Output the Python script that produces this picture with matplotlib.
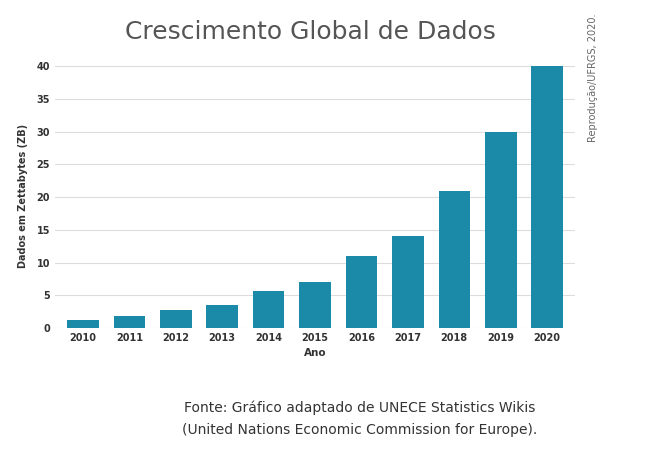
import matplotlib.pyplot as plt

anos = ["2010", "2011", "2012", "2013", "2014", "2015", "2016", "2017", "2018", "2019", "2020"]
dados_zb = [1.2, 1.8, 2.8, 3.5, 5.6, 7.1, 11, 14, 21, 30, 40]
yticks = [0, 5, 10, 15, 20, 25, 30, 35, 40]

fig = plt.figure(figsize=(6.48, 4.62), dpi=100)
ax = fig.add_axes([55 / 648, 1 - 328 / 462, 520 / 648, 265 / 462])

ax.bar(anos, dados_zb, width=0.68, color="#1a8aa8", zorder=3)
ax.set_ylim(0, 40.5)
ax.set_xlim(-0.6, len(anos) - 0.4)
ax.set_yticks(yticks)
ax.grid(axis="y", color="#dddddd", linewidth=0.8, zorder=0)
for s in ax.spines.values():
    s.set_visible(False)
ax.tick_params(length=0, labelsize=7, colors="#333333")
for lab in ax.get_xticklabels() + ax.get_yticklabels():
    lab.set_fontweight("bold")
ax.set_xlabel("Ano", fontsize=7.5, fontweight="bold", color="#333333", labelpad=4)
ax.set_ylabel("Dados em Zettabytes (ZB)", fontsize=7, fontweight="bold", color="#333333", labelpad=6)

fig.text(310 / 648, 1 - 32 / 462, "Crescimento Global de Dados", ha="center", va="center",
         fontsize=18, color="#555555")
fig.text(593 / 648, 1 - 78 / 462, "Reprodução/UFRGS, 2020.", rotation=90, ha="center", va="center",
         fontsize=7, color="#666666")
fig.text(360 / 648, 1 - 408 / 462, "Fonte: Gráfico adaptado de UNECE Statistics Wikis",
         ha="center", va="center", fontsize=10, color="#333333")
fig.text(360 / 648, 1 - 430 / 462, "(United Nations Economic Commission for Europe).",
         ha="center", va="center", fontsize=10, color="#333333")

fig.savefig("out.png", dpi=100)
